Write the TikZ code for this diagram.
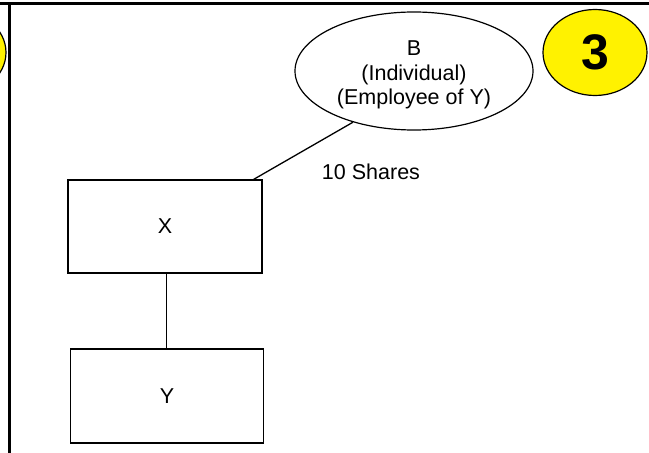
\documentclass[tikz,border=0pt]{standalone}
\usepackage{fontspec}
\setmainfont{Liberation Sans}
\usetikzlibrary{shapes.geometric}
\begin{document}
\begin{tikzpicture}[x=1pt,y=1pt,
  lbl/.style={font=\fontsize{21.5}{24.6}\selectfont},
  boxnode/.style={draw, line width=1.3pt, rectangle, minimum width=194pt, minimum height=93pt, inner sep=0pt, lbl},
  ovalnode/.style={draw, line width=1.2pt, ellipse, minimum width=238pt, minimum height=118pt, inner sep=0pt, align=center, lbl},
  badge/.style={draw, line width=1.2pt, ellipse, fill=yellow, minimum width=104pt, minimum height=86pt, inner sep=0pt, font=\fontsize{50}{50}\selectfont\bfseries},
  conn/.style={line width=1.3pt},
  frame/.style={line width=3pt}]
\useasboundingbox (0,0) rectangle (649,453);
\clip (0,0) rectangle (649,453);
\fill[white] (0,0) rectangle (649,453);
\node[badge] (prev) at (-46,400.5) {};
\node[badge] (three) at (595,400.5) {3};
\coordinate (tl) at (0,449);
\coordinate (tr) at (649,449);
\coordinate (vt) at (9.5,449);
\coordinate (vb) at (9.5,0);
\draw[frame] (tl) -- (tr);
\draw[frame] (vt) -- (vb);
\node[ovalnode] (b) at (414,382) {\rule{0pt}{23pt}B\\(Individual)\\(Employee of Y)};
\node[boxnode] (x) at (165,226.5) {X};
\node[boxnode, minimum width=193pt, minimum height=94pt] (y) at (167,57) {Y};
\draw[conn] (b.220) -- (x.28);
\draw[conn] (x.south -| 166.7,0) -- (y.north -| 166.7,0);
\node[lbl, anchor=base] (shares) at (371,273) {10 Shares};
\end{tikzpicture}
\end{document}
